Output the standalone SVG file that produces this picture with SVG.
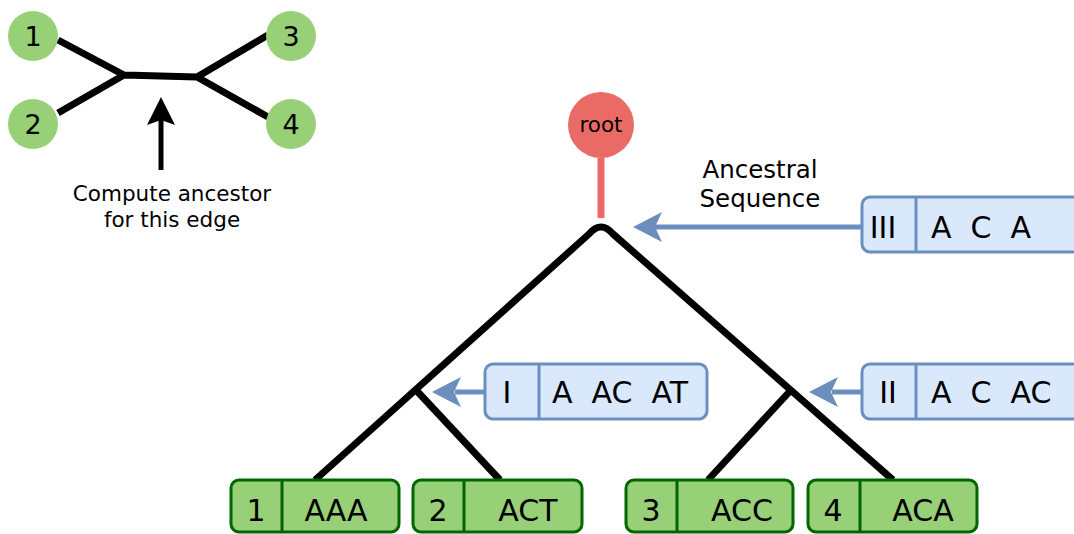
<svg xmlns="http://www.w3.org/2000/svg" width="1074" height="534" viewBox="0 0 1074 534">
  <style>
    text { font-family: "DejaVu Sans", Verdana, sans-serif; fill: #000; }
    .edge { stroke: #000; stroke-width: 7; fill: none; stroke-linejoin: round; }
    .leafc { fill: #97D077; stroke: none; }
    .anc { fill: #DAE8FC; stroke: #6C8EBF; stroke-width: 3; }
    .seq { fill: #97D077; stroke: #006600; stroke-width: 3; }
    .divA { stroke: #6C8EBF; stroke-width: 3; }
    .divS { stroke: #006600; stroke-width: 3; }
    .box { font-size: 30px; white-space: pre; }
    .num { font-size: 27px; }
    .ptr { stroke: #6C8EBF; stroke-width: 5; fill: none; }
    .ptrhead { fill: #6C8EBF; }
  </style>

  <!-- unrooted tree sketch -->
  <g id="unrooted">
    <path class="edge" d="M58,40 L124,75 L58,113 M124,75 L197,77 L268,35 M197,77 L268,117"/>
    <g id="u1"><circle class="leafc" cx="33" cy="36" r="25"/><text class="num" x="33" y="46" text-anchor="middle">1</text></g>
    <g id="u2"><circle class="leafc" cx="33" cy="124" r="25"/><text class="num" x="33" y="134" text-anchor="middle">2</text></g>
    <g id="u3"><circle class="leafc" cx="291" cy="36" r="25"/><text class="num" x="291" y="46" text-anchor="middle">3</text></g>
    <g id="u4"><circle class="leafc" cx="291" cy="124" r="25"/><text class="num" x="291" y="134" text-anchor="middle">4</text></g>
    <line x1="161" y1="170" x2="161" y2="120" stroke="#000" stroke-width="5"/>
    <path d="M161,97 L175,125 L161,120 L147,125 Z" fill="#000"/>
    <text x="172" y="201" font-size="21.5" text-anchor="middle">Compute ancestor</text>
    <text x="172" y="227" font-size="21.5" text-anchor="middle">for this edge</text>
  </g>

  <!-- rooted tree edges and pointers to ancestral sequences -->
  <g id="connectors">
    <line x1="601" y1="158" x2="601" y2="218" stroke="#EA6B66" stroke-width="7"/>
    <path class="edge" d="M315,480 L589,234 Q601,220 613,234 L893,480"/>
    <path class="edge" d="M416,390 L500,480"/>
    <path class="edge" d="M791,390 L708,480"/>
    <line class="ptr" x1="862" y1="227" x2="655" y2="227"/>
    <path class="ptrhead" d="M633,227 L662,212 L655,227 L662,242 Z"/>
    <line class="ptr" x1="485" y1="392" x2="455" y2="392"/>
    <path class="ptrhead" d="M432,392 L461,377 L454,392 L461,407 Z"/>
    <line class="ptr" x1="862" y1="392" x2="832" y2="392"/>
    <path class="ptrhead" d="M809,392 L838,377 L831,392 L838,407 Z"/>
    <text x="760" y="178" font-size="24.5" text-anchor="middle">Ancestral</text>
    <text x="760" y="207" font-size="24.5" text-anchor="middle">Sequence</text>
  </g>

  <g id="root">
    <circle cx="601" cy="125" r="33" fill="#EA6B66"/>
    <text x="601" y="132" font-size="21.5" text-anchor="middle">root</text>
  </g>

  <g id="ancIII">
    <rect class="anc" x="862" y="197" width="230" height="55" rx="8"/>
    <line class="divA" x1="916" y1="197" x2="916" y2="252"/>
    <text class="box" x="883" y="238" text-anchor="middle">III</text>
    <text class="box" x="931" y="238">A  C  A</text>
  </g>

  <g id="ancI">
    <rect class="anc" x="485" y="364" width="222" height="55" rx="8"/>
    <line class="divA" x1="539" y1="364" x2="539" y2="419"/>
    <text class="box" x="507" y="403" text-anchor="middle">I</text>
    <text class="box" x="552" y="403">A  AC  AT</text>
  </g>

  <g id="ancII">
    <rect class="anc" x="862" y="364" width="230" height="55" rx="8"/>
    <line class="divA" x1="916" y1="364" x2="916" y2="419"/>
    <text class="box" x="888" y="403" text-anchor="middle">II</text>
    <text class="box" x="931" y="403">A  C  AC</text>
  </g>

  <g id="leaf1">
    <rect class="seq" x="231" y="480" width="168" height="52" rx="8"/>
    <line class="divS" x1="282" y1="480" x2="282" y2="532"/>
    <text class="box" x="256" y="521" text-anchor="middle">1</text>
    <text class="box" x="336" y="521" text-anchor="middle">AAA</text>
  </g>
  <g id="leaf2">
    <rect class="seq" x="413" y="480" width="169" height="52" rx="8"/>
    <line class="divS" x1="464" y1="480" x2="464" y2="532"/>
    <text class="box" x="438" y="521" text-anchor="middle">2</text>
    <text class="box" x="528" y="521" text-anchor="middle">ACT</text>
  </g>
  <g id="leaf3">
    <rect class="seq" x="626" y="480" width="167" height="52" rx="8"/>
    <line class="divS" x1="677" y1="480" x2="677" y2="532"/>
    <text class="box" x="651" y="521" text-anchor="middle">3</text>
    <text class="box" x="742" y="521" text-anchor="middle">ACC</text>
  </g>
  <g id="leaf4">
    <rect class="seq" x="808" y="480" width="169" height="52" rx="8"/>
    <line class="divS" x1="860" y1="480" x2="860" y2="532"/>
    <text class="box" x="833" y="521" text-anchor="middle">4</text>
    <text class="box" x="923" y="521" text-anchor="middle">ACA</text>
  </g>
</svg>
